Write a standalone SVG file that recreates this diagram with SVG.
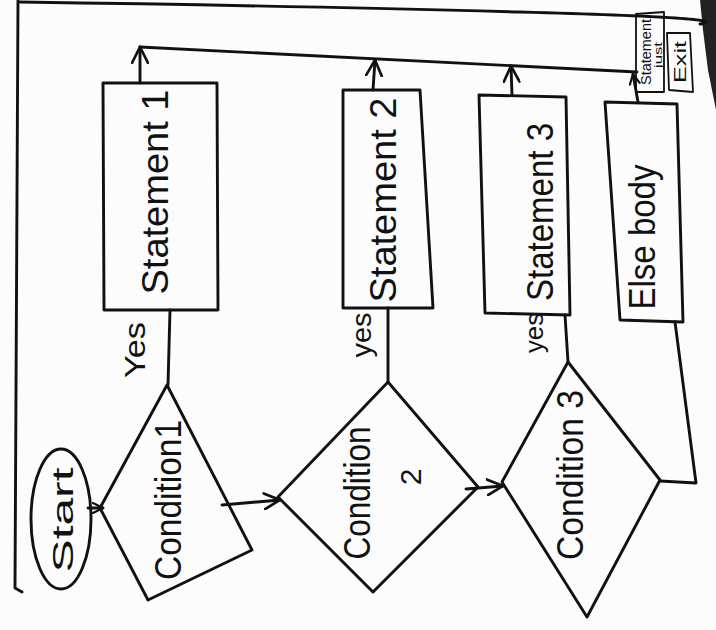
<svg xmlns="http://www.w3.org/2000/svg" width="716" height="630" viewBox="0 0 716 630">
<defs>
<marker id="arr" viewBox="0 0 12 12" refX="11" refY="6" markerWidth="12" markerHeight="12" markerUnits="userSpaceOnUse" orient="auto">
<path d="M1,1 L11,6 L1,11" fill="none" stroke="#111" stroke-width="2.2" stroke-linecap="round"/>
</marker>
<marker id="arrbig" viewBox="0 0 16 16" refX="15" refY="8" markerWidth="18" markerHeight="18" markerUnits="userSpaceOnUse" orient="auto">
<path d="M1,1 L15,8 L1,15" fill="none" stroke="#111" stroke-width="2.4" stroke-linecap="round"/>
</marker>
</defs>
<style>
.s{fill:none;stroke:#111;stroke-width:2.9;stroke-linejoin:round;stroke-linecap:round}
.t{font-family:"Liberation Sans Narrow","Liberation Sans",sans-serif;fill:#111;text-anchor:middle;dominant-baseline:central}
.big{font-size:36px}
.mid{font-size:30px}
.sm{font-size:10px}
</style>
<rect width="716" height="630" fill="#fcfcfc"/>
<polygon points="700,0 716,0 716,110 708,70 703,30" fill="#222"/>
<g id="page">
<path class="s" d="M20,2 Q300,6 520,12 T700,24"/>
<path class="s" d="M18,0 L15,588 L22,592"/>
</g>
<g id="connectors">
<path class="s" d="M140,47 L637,72"/>
<path class="s" d="M140,83 L140,47" marker-end="url(#arrbig)"/>
<path class="s" d="M373,90 L375,60" marker-end="url(#arrbig)"/>
<path class="s" d="M512,95 L511,66" marker-end="url(#arrbig)"/>
<path class="s" d="M638,102 L633,74" marker-end="url(#arr)"/>
<path class="s" d="M88,508 L103,508" marker-end="url(#arr)"/>
<path class="s" d="M170,310 L168,385"/>
<path class="s" d="M222,505 L280,500" marker-end="url(#arrbig)"/>
<path class="s" d="M388,308 L388,382"/>
<path class="s" d="M466,489 L503,486" marker-end="url(#arrbig)"/>
<path class="s" d="M565,315 L568,362"/>
<path class="s" d="M660,481 L696,483 L675,322"/>
<text class="t" style="font-size:30px" transform="translate(134,350) rotate(-90)" textLength="56" lengthAdjust="spacingAndGlyphs">Yes</text>
<text class="t" style="font-size:28px" transform="translate(361,335) rotate(-90)" textLength="45" lengthAdjust="spacingAndGlyphs">yes</text>
<text class="t" style="font-size:26px" transform="translate(534,333) rotate(-90)" textLength="40" lengthAdjust="spacingAndGlyphs">yes</text>
</g>
<g id="start">
<ellipse class="s" cx="61" cy="519" rx="30" ry="70"/>
<text class="t mid" transform="translate(62,520) rotate(-90)" textLength="105" lengthAdjust="spacingAndGlyphs">Start</text>
</g>
<g id="condition1">
<polygon class="s" points="167,385 252,550 148,600 100,508"/>
<text class="t big" transform="translate(168,500) rotate(-90)" textLength="160" lengthAdjust="spacingAndGlyphs">Condition1</text>
</g>
<g id="condition2">
<polygon class="s" points="388,382 478,487 373,592 278,497"/>
<text class="t big" transform="translate(357,493) rotate(-90)" textLength="133" lengthAdjust="spacingAndGlyphs">Condition</text>
<text class="t mid" transform="translate(410,477) rotate(-90)">2</text>
</g>
<g id="condition3">
<polygon class="s" points="568,362 660,480 587,617 502,482"/>
<text class="t big" transform="translate(570,475) rotate(-90)" textLength="170" lengthAdjust="spacingAndGlyphs">Condition 3</text>
</g>
<g id="statement1">
<path class="s" d="M103,83 L217,83 L218,310 L104,310 Z"/>
<text class="t big" transform="translate(155,192) rotate(-90)" textLength="205" lengthAdjust="spacingAndGlyphs">Statement 1</text>
</g>
<g id="statement2">
<path class="s" d="M343,90 L420,90 L433,308 L343,308 Z"/>
<text class="t big" transform="translate(383,200) rotate(-90)" textLength="205" lengthAdjust="spacingAndGlyphs">Statement 2</text>
</g>
<g id="statement3">
<path class="s" d="M479,95 L566,97 L570,315 L485,313 Z"/>
<text class="t big" transform="translate(540,212) rotate(-90)" textLength="178" lengthAdjust="spacingAndGlyphs">Statement 3</text>
</g>
<g id="elsebody">
<path class="s" d="M605,102 L677,104 L683,322 L620,320 Z"/>
<text class="t big" transform="translate(642,237) rotate(-90)" textLength="145" lengthAdjust="spacingAndGlyphs">Else body</text>
</g>
<g id="statementjust">
<path class="s" style="stroke-width:1.8" d="M636,14 L664,12 L664,92 L636,92 Z"/>
<text class="t" style="font-size:14px" transform="translate(646,52) rotate(-90)" textLength="66" lengthAdjust="spacingAndGlyphs">Statement</text>
<text class="t sm" transform="translate(658,55) rotate(-90)" textLength="26" lengthAdjust="spacingAndGlyphs">just</text>
</g>
<g id="exit">
<path class="s" style="stroke-width:1.8" d="M667,33 L690,33 L693,92 L669,90 Z"/>
<text class="t" style="font-size:17px" transform="translate(680,62) rotate(-90)" textLength="42" lengthAdjust="spacingAndGlyphs">Exit</text>
</g>
</svg>
